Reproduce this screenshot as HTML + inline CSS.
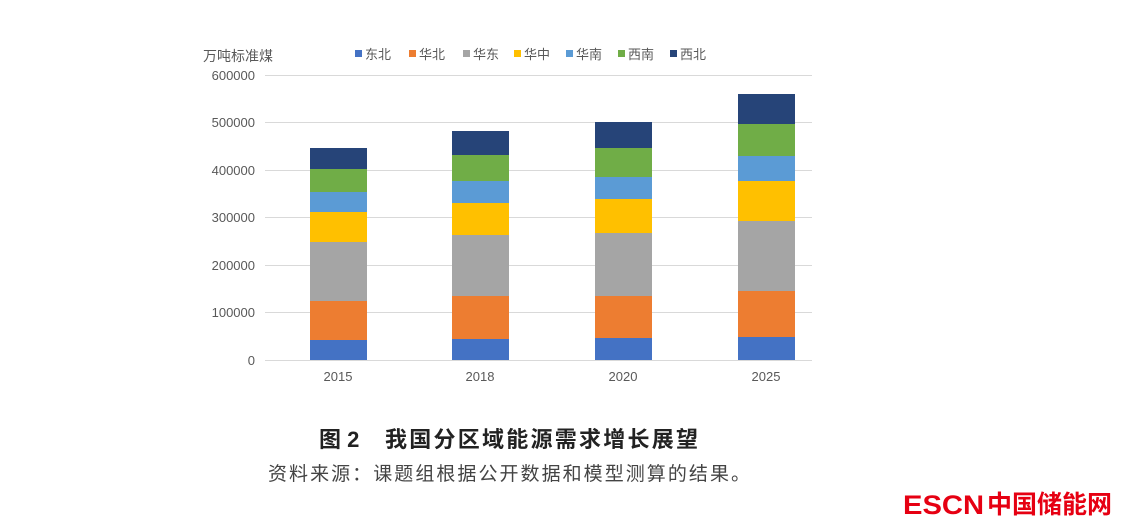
<!DOCTYPE html>
<html><head><meta charset="utf-8"><style>
body{margin:0;background:#fff;width:1137px;height:531px;overflow:hidden}
svg{display:block}
</style></head><body>
<svg width="1137" height="531" xmlns="http://www.w3.org/2000/svg" font-family="Liberation Sans, Noto Sans CJK SC, sans-serif">
<g stroke="#d9d9d9" stroke-width="1">
<line x1="265" y1="75.5" x2="812" y2="75.5"/>
<line x1="265" y1="122.5" x2="812" y2="122.5"/>
<line x1="265" y1="170.5" x2="812" y2="170.5"/>
<line x1="265" y1="217.5" x2="812" y2="217.5"/>
<line x1="265" y1="265.5" x2="812" y2="265.5"/>
<line x1="265" y1="312.5" x2="812" y2="312.5"/>
<line x1="265" y1="360.5" x2="812" y2="360.5"/>
</g>
<g font-size="13" fill="#595959" text-anchor="end">
<text x="255" y="80">600000</text>
<text x="255" y="127">500000</text>
<text x="255" y="175">400000</text>
<text x="255" y="222">300000</text>
<text x="255" y="270">200000</text>
<text x="255" y="317">100000</text>
<text x="255" y="365">0</text>
</g>
<text x="203" y="61" font-size="14" fill="#595959">万吨标准煤</text>
<g font-size="13" fill="#595959">
<rect x="355" y="50" width="7" height="7" fill="#4472C4"/><text x="365" y="59">东北</text>
<rect x="409" y="50" width="7" height="7" fill="#ED7D31"/><text x="419" y="59">华北</text>
<rect x="463" y="50" width="7" height="7" fill="#A5A5A5"/><text x="473" y="59">华东</text>
<rect x="514" y="50" width="7" height="7" fill="#FFC000"/><text x="524" y="59">华中</text>
<rect x="566" y="50" width="7" height="7" fill="#5B9BD5"/><text x="576" y="59">华南</text>
<rect x="618" y="50" width="7" height="7" fill="#70AD47"/><text x="628" y="59">西南</text>
<rect x="670" y="50" width="7" height="7" fill="#264478"/><text x="680" y="59">西北</text>
</g>
<g>
<rect x="310" y="340" width="57" height="20" fill="#4472C4"/>
<rect x="310" y="301" width="57" height="39" fill="#ED7D31"/>
<rect x="310" y="242" width="57" height="59" fill="#A5A5A5"/>
<rect x="310" y="212" width="57" height="30" fill="#FFC000"/>
<rect x="310" y="192" width="57" height="20" fill="#5B9BD5"/>
<rect x="310" y="169" width="57" height="23" fill="#70AD47"/>
<rect x="310" y="148" width="57" height="21" fill="#264478"/>

<rect x="452" y="339" width="57" height="21" fill="#4472C4"/>
<rect x="452" y="296" width="57" height="43" fill="#ED7D31"/>
<rect x="452" y="235" width="57" height="61" fill="#A5A5A5"/>
<rect x="452" y="203" width="57" height="32" fill="#FFC000"/>
<rect x="452" y="181" width="57" height="22" fill="#5B9BD5"/>
<rect x="452" y="155" width="57" height="26" fill="#70AD47"/>
<rect x="452" y="131" width="57" height="24" fill="#264478"/>

<rect x="595" y="338" width="57" height="22" fill="#4472C4"/>
<rect x="595" y="296" width="57" height="42" fill="#ED7D31"/>
<rect x="595" y="233" width="57" height="63" fill="#A5A5A5"/>
<rect x="595" y="199" width="57" height="34" fill="#FFC000"/>
<rect x="595" y="177" width="57" height="22" fill="#5B9BD5"/>
<rect x="595" y="148" width="57" height="29" fill="#70AD47"/>
<rect x="595" y="122" width="57" height="26" fill="#264478"/>

<rect x="738" y="337" width="57" height="23" fill="#4472C4"/>
<rect x="738" y="291" width="57" height="46" fill="#ED7D31"/>
<rect x="738" y="221" width="57" height="70" fill="#A5A5A5"/>
<rect x="738" y="181" width="57" height="40" fill="#FFC000"/>
<rect x="738" y="156" width="57" height="25" fill="#5B9BD5"/>
<rect x="738" y="124" width="57" height="32" fill="#70AD47"/>
<rect x="738" y="94" width="57" height="30" fill="#264478"/>
</g>
<g font-size="13" fill="#595959" text-anchor="middle">
<text x="338" y="381">2015</text>
<text x="480" y="381">2018</text>
<text x="623" y="381">2020</text>
<text x="766" y="381">2025</text>
</g>
<text x="319" y="447" font-size="22" font-weight="bold" fill="#222">图 2</text>
<text x="385" y="447" font-size="22" font-weight="bold" fill="#222" textLength="313" lengthAdjust="spacing">我国分区域能源需求增长展望</text>
<text x="268" y="480" font-size="19" fill="#444" textLength="482" lengthAdjust="spacing">资料来源：课题组根据公开数据和模型测算的结果。</text>
<text x="903" y="514" font-size="27" font-weight="bold" fill="#e60012" textLength="81" lengthAdjust="spacingAndGlyphs">ESCN</text>
<text x="987" y="513" font-size="25" font-weight="bold" fill="#e60012">中国储能网</text>
</svg>
</body></html>
